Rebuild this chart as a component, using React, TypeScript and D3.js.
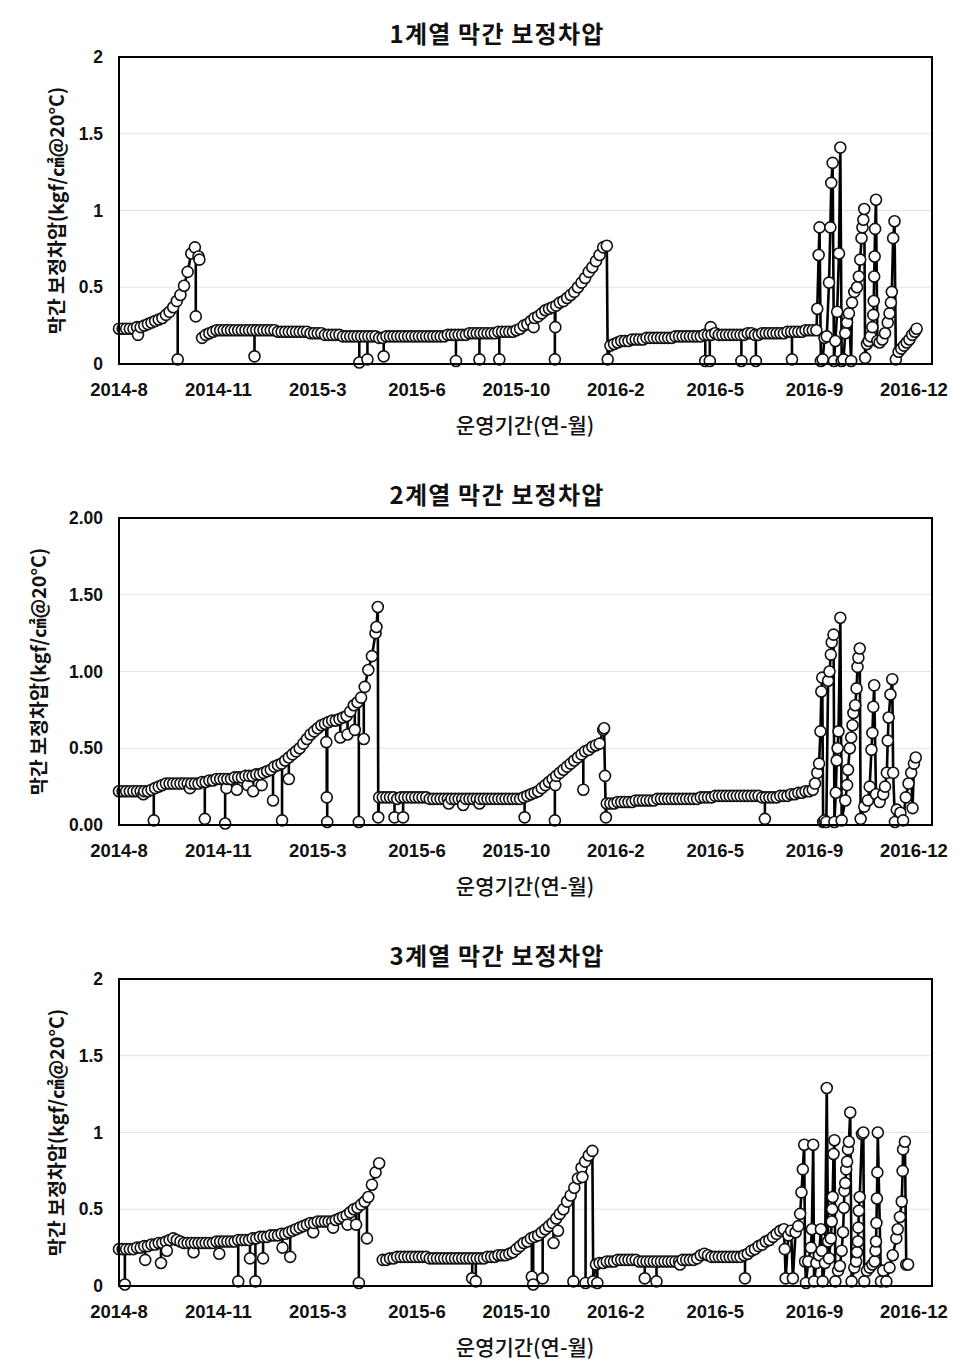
import React from "react";
import * as d3 from "d3";

// ---------- axis data ----------
const START = Date.UTC(2014, 7, 1);
const DAY_MS = 86400000;
const X_SPAN_DAYS = 900;
const GRID_STEP = 4; // base series sampled every 4 days from START

const xTickDays = [0, 110, 220, 330, 440, 550, 660, 770, 880];
const xTickLabels = ["2014-8", "2014-11", "2015-3", "2015-6", "2015-10", "2016-2", "2016-5", "2016-9", "2016-12"];
const yTicks = [0, 0.5, 1, 1.5, 2];
const yLabelsPlain = ["0", "0.5", "1", "1.5", "2"];
const yLabelsFixed = ["0.00", "0.50", "1.00", "1.50", "2.00"];
const panelTitles = ["1계열 막간 보정차압", "2계열 막간 보정차압", "3계열 막간 보정차압"];
const xAxisTitle = "운영기간(연-월)";
const yAxisTitle = "막간 보정차압(kgf/㎠@20°C)";

// ---------- series 1 ----------
const p1Base: (number | null)[] = [
  0.23, 0.23, 0.23, 0.23, 0.23, 0.24, 0.24, 0.25, 0.26, 0.27,
  0.28, 0.29, 0.30, 0.32, 0.34, 0.37, 0.41, 0.45, 0.51, 0.60,
  0.72, 0.76, 0.70, 0.17, 0.19, 0.20, 0.21, 0.22, 0.22, 0.22,
  0.22, 0.22, 0.22, 0.22, 0.22, 0.22, 0.22, 0.22, 0.22, 0.22,
  0.22, 0.22, 0.22, 0.22, 0.21, 0.21, 0.21, 0.21, 0.21, 0.21,
  0.21, 0.21, 0.21, 0.20, 0.20, 0.20, 0.20, 0.19, 0.19, 0.19,
  0.19, 0.19, 0.18, 0.18, 0.18, 0.18, 0.18, 0.18, 0.18, 0.18,
  0.18, 0.18, 0.17, 0.17, 0.18, 0.18, 0.18, 0.18, 0.18, 0.18,
  0.18, 0.18, 0.18, 0.18, 0.18, 0.18, 0.18, 0.18, 0.18, 0.18,
  0.18, 0.19, 0.19, 0.19, 0.19, 0.19, 0.19, 0.20, 0.20, 0.20,
  0.20, 0.20, 0.20, 0.20, 0.20, 0.21, 0.21, 0.21, 0.21, 0.21,
  0.22, 0.23, 0.25, 0.26, 0.28, 0.30, 0.31, 0.33, 0.35, 0.36,
  0.37, 0.38, 0.40, 0.41, 0.43, 0.45, 0.47, 0.50, 0.53, 0.56,
  0.60, 0.63, 0.67, 0.71, 0.76, 0.77, 0.12, 0.13, 0.14, 0.15,
  0.15, 0.15, 0.16, 0.16, 0.16, 0.16, 0.17, 0.17, 0.17, 0.17,
  0.17, 0.17, 0.17, 0.17, 0.18, 0.18, 0.18, 0.18, 0.18, 0.18,
  0.18, 0.18, 0.19, 0.19, 0.19, 0.20, 0.19, 0.19, 0.19, 0.19,
  0.19, 0.19, 0.19, 0.19, 0.20, 0.20, 0.19, 0.19, 0.20, 0.20,
  0.20, 0.20, 0.20, 0.20, 0.20, 0.21, 0.21, 0.21, 0.21, 0.21,
  0.22, 0.22, 0.22,
];
// single-day drops/dips off the main band: [day, value]
const p1Drops: [number, number][] = [
  [21, 0.19], [65, 0.03], [85, 0.31], [150, 0.05], [266, 0.01], [275, 0.03],
  [293, 0.05], [373, 0.02], [399, 0.03], [421, 0.03], [459, 0.24], [482.5, 0.03],
  [483, 0.24], [649, 0.02], [654, 0.02], [655, 0.24], [689, 0.02], [705, 0.02],
  [745, 0.03],
];
// extra readings on the line itself (breaks = null, and the irregular late period)
const p1Points: [number, number | null][] = [
  [89, 0.68], [90.5, null], [541, 0.03],
  [772, 0.22], [773, 0.36], [774.5, 0.71], [775.5, 0.89], [777, 0.02], [779, 0.03],
  [781, 0.17], [783.5, 0.18], [786, 0.53], [787.5, 0.89], [788.5, 1.18], [790, 1.31],
  [791.5, 0.02], [793, 0.15], [795, 0.34], [797, 0.72], [798.5, 1.41], [800, 0.02],
  [802, 0.03], [804, 0.2], [806, 0.27], [808, 0.33], [810.5, 0.02], [811.5, 0.4],
  [814, 0.47], [817, 0.5], [819, 0.57], [820.5, 0.68], [822, 0.82], [823, 0.89],
  [824, 0.94], [825, 1.01], [826, 0.04], [828, 0.13], [830, 0.15], [832, 0.18],
  [834, 0.24], [835, 0.32], [835.5, 0.41], [836, 0.57], [836.5, 0.7], [837, 0.88],
  [838, 1.07], [839.5, 0.15], [842, 0.14], [845, 0.16], [848, 0.2], [851, 0.27],
  [853, 0.33], [854.5, 0.4], [855.5, 0.47], [857, 0.82], [858.5, 0.93], [860, 0.03],
  [863, 0.08], [866, 0.1], [869, 0.12], [872, 0.14], [875, 0.16], [878, 0.19],
  [881, 0.21], [883, 0.23],
];

// ---------- series 2 ----------
const p2Base: (number | null)[] = [
  0.22, 0.22, 0.22, 0.22, 0.22, 0.22, 0.22, 0.22, 0.22, 0.23,
  0.24, 0.25, 0.26, 0.27, 0.27, 0.27, 0.27, 0.27, 0.27, 0.27,
  0.27, 0.27, 0.27, 0.28, 0.28, 0.29, 0.29, 0.30, 0.30, 0.30,
  0.30, 0.30, 0.31, 0.31, 0.31, 0.32, 0.32, 0.32, 0.33, 0.33,
  0.34, 0.35, 0.36, 0.38, 0.39, 0.40, 0.42, 0.44, 0.46, 0.48,
  0.50, 0.53, 0.56, 0.59, 0.61, 0.63, 0.65, 0.66, 0.67, 0.68,
  0.68, 0.69, 0.70, 0.71, 0.74, 0.78, 0.80, 0.83, 0.90, 1.01,
  1.10, 1.25, 0.18, 0.18, 0.18, 0.18, 0.18, 0.17, 0.18, 0.18,
  0.18, 0.18, 0.18, 0.18, 0.18, 0.18, 0.17, 0.17, 0.17, 0.17,
  0.17, 0.17, 0.17, 0.17, 0.17, 0.17, 0.17, 0.17, 0.17, 0.17,
  0.17, 0.17, 0.17, 0.17, 0.17, 0.17, 0.17, 0.17, 0.17, 0.17,
  0.17, 0.17, 0.18, 0.19, 0.20, 0.21, 0.22, 0.24, 0.26, 0.28,
  0.30, 0.32, 0.34, 0.36, 0.38, 0.40, 0.42, 0.44, 0.46, 0.48,
  0.49, 0.51, 0.52, 0.53, 0.62, 0.14, 0.14, 0.14, 0.15, 0.15,
  0.15, 0.15, 0.15, 0.16, 0.16, 0.16, 0.16, 0.16, 0.16, 0.17,
  0.17, 0.17, 0.17, 0.17, 0.17, 0.17, 0.17, 0.17, 0.17, 0.17,
  0.17, 0.18, 0.18, 0.18, 0.18, 0.19, 0.19, 0.19, 0.19, 0.19,
  0.19, 0.19, 0.19, 0.19, 0.19, 0.19, 0.19, 0.19, 0.18, 0.18,
  0.18, 0.18, 0.18, 0.19, 0.19, 0.19, 0.20, 0.20, 0.21, 0.21,
  0.22, 0.22, 0.23,
];
const p2Drops: [number, number][] = [
  [27, 0.2], [38.5, 0.03], [78.5, 0.24], [95, 0.04], [117.5, 0.01], [119, 0.24],
  [130.5, 0.23], [142.5, 0.26], [148.5, 0.22], [158, 0.26], [170.5, 0.16], [180.5, 0.03],
  [188, 0.3], [229.5, 0.54], [230, 0.18], [230.5, 0.02], [245, 0.57], [253, 0.59],
  [261, 0.62], [265.5, 0.02], [271, 0.56], [305, 0.05], [314.5, 0.05], [365, 0.14],
  [381, 0.13], [399, 0.14], [449, 0.05], [482.5, 0.03], [483, 0.26], [514, 0.23],
  [715, 0.04],
];
const p2Points: [number, number | null][] = [
  [285, 1.29], [286.5, 1.42], [287, 0.05], [537, 0.63], [538, 0.32], [539, 0.05],
  [770.5, 0.27], [773, 0.34], [775, 0.4], [776.5, 0.61], [777.5, 0.87], [778.5, 0.96],
  [779.5, 0.02], [781, 0.03], [783, 0.02], [785, 0.94], [786.5, 1.0], [788, 1.11],
  [789, 1.19], [791, 1.24], [792, 0.02], [793.5, 0.21], [794.5, 0.42], [795.5, 0.5],
  [796.5, 0.61], [798.5, 1.35], [800, 0.03], [804, 0.16], [806, 0.26], [807, 0.36],
  [809, 0.5], [810.5, 0.57], [812, 0.65], [813, 0.73], [815, 0.78], [816.5, 0.89],
  [817.5, 1.03], [818.5, 1.09], [820, 1.15], [821, 0.04], [825, 0.12], [829, 0.16],
  [831, 0.25], [833, 0.49], [834, 0.6], [835, 0.77], [836, 0.91], [838, 0.2],
  [842, 0.15], [846, 0.2], [848, 0.25], [850, 0.34], [851, 0.55], [852, 0.7],
  [854, 0.85], [856, 0.95], [857, 0.34], [859, 0.02], [861, 0.1], [865, 0.08],
  [868, 0.03], [871, 0.18], [874, 0.27], [877, 0.34], [878.5, 0.11], [880, 0.4],
  [882, 0.44],
];

// ---------- series 3 ----------
const p3Base: (number | null)[] = [
  0.24, 0.24, 0.24, 0.24, 0.24, 0.25, 0.25, 0.26, 0.26, 0.27,
  0.27, 0.28, 0.28, 0.29, 0.30, 0.31, 0.30, 0.29, 0.28, 0.28,
  0.28, 0.28, 0.28, 0.28, 0.28, 0.28, 0.28, 0.29, 0.29, 0.29,
  0.29, 0.29, 0.29, 0.30, 0.30, 0.30, 0.30, 0.31, 0.31, 0.32,
  0.32, 0.32, 0.33, 0.33, 0.33, 0.34, 0.34, 0.35, 0.36, 0.37,
  0.38, 0.39, 0.40, 0.41, 0.41, 0.42, 0.42, 0.42, 0.42, 0.42,
  0.43, 0.44, 0.45, 0.46, 0.48, 0.50, 0.51, 0.53, 0.55, 0.58,
  0.66, 0.74, 0.80, 0.17, 0.17, 0.18, 0.18, 0.19, 0.19, 0.19,
  0.19, 0.19, 0.19, 0.19, 0.19, 0.19, 0.18, 0.18, 0.18, 0.18,
  0.18, 0.18, 0.18, 0.18, 0.18, 0.18, 0.18, 0.18, 0.18, 0.18,
  0.18, 0.18, 0.19, 0.19, 0.19, 0.20, 0.20, 0.20, 0.21, 0.22,
  0.24, 0.26, 0.28, 0.29, 0.31, 0.32, 0.33, 0.35, 0.37, 0.39,
  0.41, 0.44, 0.47, 0.50, 0.55, 0.59, 0.64, 0.70, 0.77, 0.81,
  0.85, 0.88, 0.14, 0.15, 0.15, 0.16, 0.16, 0.16, 0.17, 0.17,
  0.17, 0.17, 0.17, 0.17, 0.16, 0.16, 0.16, 0.16, 0.16, 0.16,
  0.16, 0.16, 0.16, 0.16, 0.16, 0.16, 0.17, 0.17, 0.17, 0.17,
  0.18, 0.20, 0.21, 0.20, 0.19, 0.19, 0.19, 0.19, 0.19, 0.19,
  0.19, 0.19, 0.19, 0.20, 0.21, 0.23, 0.24, 0.26, 0.27, 0.29,
  0.30, 0.32, 0.34, 0.36, 0.37,
];
const p3Drops: [number, number][] = [
  [6.5, 0.01], [29, 0.17], [46.5, 0.15], [53, 0.23], [82.5, 0.22], [111, 0.21],
  [132, 0.03], [145, 0.18], [151, 0.03], [159.5, 0.18], [181, 0.25], [189.5, 0.19],
  [215, 0.35], [237, 0.38], [253, 0.4], [262.5, 0.4], [265.5, 0.02], [274.5, 0.31],
  [391, 0.05], [395, 0.03], [457, 0.06], [458.5, 0.01], [469, 0.05], [481, 0.28],
  [486, 0.36], [503, 0.03], [513, 0.71], [516.5, 0.02], [529.5, 0.02], [582, 0.05],
  [595, 0.03], [621, 0.14], [693, 0.05],
];
const p3Points: [number, number | null][] = [
  [289.5, null], [525, 0.03],
  [737, 0.24], [738, 0.05], [741, 0.33], [744, 0.36], [746, 0.05], [749, 0.35],
  [752, 0.39], [754, 0.47], [755.5, 0.61], [757, 0.76], [758.5, 0.92], [759.5, 0.16],
  [760.5, 0.02], [763, 0.16], [766, 0.25], [767, 0.37], [768.5, 0.92], [769.5, 0.03],
  [772, 0.15], [775, 0.2], [777, 0.37], [778, 0.23], [779, 0.03], [781.5, 0.15],
  [783.5, 1.29], [785, 0.29], [786, 0.18], [788, 0.31], [789, 0.42], [789.5, 0.5],
  [790, 0.58], [791, 0.86], [792, 0.95], [793, 0.03], [796, 0.1], [798, 0.13],
  [800, 0.23], [801.5, 0.35], [802.5, 0.51], [803, 0.62], [804, 0.67], [805, 0.76],
  [806, 0.81], [807, 0.89], [808, 0.94], [809.5, 1.13], [811, 0.03], [814, 0.12],
  [816, 0.16], [817, 0.22], [818, 0.29], [818.5, 0.38], [819, 0.49], [820, 0.58],
  [822.5, 0.99], [824, 1.0], [825, 0.03], [828, 0.1], [831, 0.12], [834, 0.14],
  [836.5, 0.16], [837.5, 0.23], [838, 0.29], [838.5, 0.41], [839, 0.57], [839.5, 0.74],
  [840, 1.0], [843.5, 0.03], [846, 0.1], [849.5, 0.03], [853, 0.12], [856.5, 0.2],
  [860.5, 0.31], [862, 0.37], [864.5, 0.45], [866.5, 0.55], [867.5, 0.75], [868, 0.89],
  [870, 0.94], [871.5, 0.14], [873.5, 0.14],
];

type Pt = { day: number; v: number | null };

function buildSeries(base: (number | null)[], extra: [number, number | null][]): Pt[] {
  const pts: Pt[] = base.map((v, i) => ({ day: i * GRID_STEP, v }));
  extra.forEach(([day, v]) => pts.push({ day, v }));
  pts.sort((a, b) => a.day - b.day);
  return pts;
}

// value of the drawn line at a given day (to attach a drop to the band)
function lineValueAt(series: Pt[], day: number): number {
  const valid = series.filter((p) => p.v !== null);
  const i = d3.bisector((p: Pt) => p.day).left(valid, day);
  const a = valid[Math.max(0, i - 1)];
  const b = valid[Math.min(valid.length - 1, i)];
  if (a.day === b.day) return a.v as number;
  const t = (day - a.day) / (b.day - a.day);
  return (a.v as number) + t * ((b.v as number) - (a.v as number));
}

const PLOT_LEFT = 119;
const PLOT_RIGHT = 932;
const PLOT_H = 307;
const KR_FONT = "'Noto Sans CJK KR', 'Noto Sans', sans-serif";
const NUM_FONT = "'Liberation Sans', Arial, sans-serif";

function Panel({
  top,
  title,
  pts,
  drops,
  yLabels,
  yTitleX,
}: {
  top: number;
  title: string;
  pts: Pt[];
  drops: [number, number][];
  yLabels: string[];
  yTitleX: number;
}) {
  const x = d3
    .scaleUtc()
    .domain([new Date(START), new Date(START + X_SPAN_DAYS * DAY_MS)])
    .range([PLOT_LEFT, PLOT_RIGHT]);
  const y = d3.scaleLinear().domain([0, 2]).range([top + PLOT_H, top]);
  const xd = (day: number) => x(new Date(START + day * DAY_MS));
  const line = d3
    .line<Pt>()
    .defined((p) => p.v !== null)
    .x((p) => xd(p.day))
    .y((p) => y(p.v as number));
  const midY = top + PLOT_H / 2;
  const markers = [
    ...pts.filter((p) => p.v !== null).map((p) => ({ day: p.day, v: p.v as number })),
    ...drops.map(([day, v]) => ({ day, v })),
  ].sort((a, b) => a.day - b.day);
  return (
    <g>
      <text
        x={497}
        y={top - 25}
        textAnchor="middle"
        dominantBaseline="central"
        fontFamily={KR_FONT}
        fontWeight={700}
        fontSize={24}
        letterSpacing={1.2}
        fill="#111"
      >
        {title}
      </text>
      {yTicks.slice(1, 4).map((t) => (
        <line key={t} x1={PLOT_LEFT} x2={PLOT_RIGHT} y1={y(t)} y2={y(t)} stroke="#e3e3e3" strokeWidth={1} />
      ))}
      {drops.map(([day, v], i) => (
        <line
          key={"d" + i}
          x1={xd(day)}
          x2={xd(day)}
          y1={y(lineValueAt(pts, day))}
          y2={y(v)}
          stroke="#000"
          strokeWidth={2.6}
        />
      ))}
      <path d={line(pts) || ""} fill="none" stroke="#000" strokeWidth={2.6} strokeLinejoin="round" />
      {markers.map((p, i) => (
        <circle key={i} cx={xd(p.day)} cy={y(p.v)} r={5.5} fill="#fff" stroke="#111" strokeWidth={1.6} />
      ))}
      <rect x={PLOT_LEFT} y={top} width={PLOT_RIGHT - PLOT_LEFT} height={PLOT_H} fill="none" stroke="#000" strokeWidth={2} />
      {yTicks.map((t, i) => (
        <text
          key={t}
          x={103}
          y={y(t)}
          textAnchor="end"
          dominantBaseline="central"
          fontFamily={NUM_FONT}
          fontWeight={700}
          fontSize={17.5}
          fill="#111"
        >
          {yLabels[i]}
        </text>
      ))}
      {xTickDays.map((d, i) => (
        <text
          key={d}
          x={xd(d)}
          y={top + 332}
          textAnchor="middle"
          dominantBaseline="central"
          fontFamily={NUM_FONT}
          fontWeight={700}
          fontSize={18.5}
          fill="#111"
        >
          {xTickLabels[i]}
        </text>
      ))}
      <text
        x={525}
        y={top + 367}
        textAnchor="middle"
        dominantBaseline="central"
        fontFamily={KR_FONT}
        fontWeight={500}
        fontSize={21}
        fill="#111"
      >
        {xAxisTitle}
      </text>
      <text
        transform={`translate(${yTitleX},${midY}) rotate(-90)`}
        textAnchor="middle"
        dominantBaseline="central"
        fontFamily={KR_FONT}
        fontWeight={700}
        fontSize={19.5}
        fill="#111"
      >
        {yAxisTitle}
      </text>
    </g>
  );
}

export default function App() {
  const s1 = buildSeries(p1Base, p1Points);
  const s2 = buildSeries(p2Base, p2Points);
  const s3 = buildSeries(p3Base, p3Points);
  return (
    <svg width={980} height={1370} style={{ position: "absolute", left: 0, top: 0, background: "#fff" }}>
      <rect x={0} y={0} width={980} height={1370} fill="#fff" />
      <Panel top={57} title={panelTitles[0]} pts={s1} drops={p1Drops} yLabels={yLabelsPlain} yTitleX={55} />
      <Panel top={518} title={panelTitles[1]} pts={s2} drops={p2Drops} yLabels={yLabelsFixed} yTitleX={37} />
      <Panel top={979} title={panelTitles[2]} pts={s3} drops={p3Drops} yLabels={yLabelsPlain} yTitleX={55} />
    </svg>
  );
}
